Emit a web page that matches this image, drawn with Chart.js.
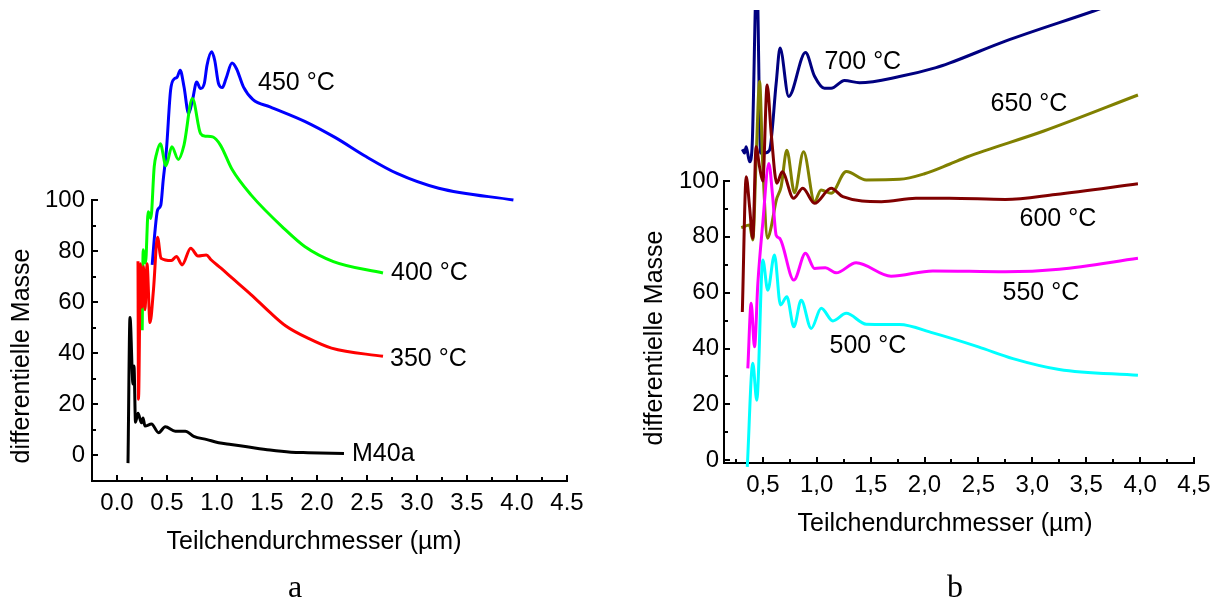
<!DOCTYPE html>
<html>
<head>
<meta charset="utf-8">
<script src="https://cdn.jsdelivr.net/npm/chart.js@4/dist/chart.umd.min.js"></script>
<style>
body { margin: 0; background: #fff; }
#wrap { position: relative; width: 1225px; height: 602px; }
canvas { position: absolute; left: 0; top: 0; }
</style>
</head>
<body>
<div id="wrap">
<canvas id="chartA" width="1225" height="602"></canvas>
<canvas id="chartB" width="1225" height="602"></canvas>
</div>
<script>
// ---- chart a: tick values ----
const xTickA = [0, 0.5, 1, 1.5, 2, 2.5, 3, 3.5, 4, 4.5];
const yTickA = [0, 20, 40, 60, 80, 100];

// M40a (black)
const m40aX = [0.11, 0.13, 0.16, 0.17, 0.185, 0.21, 0.245, 0.26, 0.28, 0.345, 0.416, 0.483, 0.583, 0.683, 0.767, 0.9, 1.017, 1.14, 1.3, 1.53, 1.74, 1.91, 2.27];
const m40aY = [-3, 54, 28, 35, 13, 16.5, 12.8, 14.7, 11.5, 12.3, 8.9, 11.2, 9.5, 9.5, 7.5, 6.2, 5, 4.3, 3.4, 2.1, 1.3, 1.1, 0.8];

// 350 °C (red)
const r350X = [0.21, 0.215, 0.235, 0.25, 0.265, 0.28, 0.3, 0.33, 0.365, 0.405, 0.44, 0.544, 0.594, 0.651, 0.737, 0.81, 0.893, 0.94, 1.04, 1.15, 1.34, 1.53, 1.685, 1.915, 2.145, 2.66];
const r350Y = [76, 22, 75, 58, 74, 57, 75, 52, 65, 85.4, 77.2, 76.3, 77.9, 74.6, 81.1, 78.1, 78.5, 76.6, 73.3, 69.5, 63, 56, 50.8, 45.8, 42, 38.8];

// 400 °C (green)
const g400X = [0.252, 0.262, 0.285, 0.312, 0.338, 0.372, 0.395, 0.433, 0.49, 0.548, 0.613, 0.67, 0.754, 0.835, 0.88, 0.957, 1.034, 1.15, 1.34, 1.685, 1.877, 2.164, 2.66];
const g400Y = [49, 80.5, 75.3, 95.4, 92.8, 113, 118, 122, 113.4, 120.8, 115.9, 121.5, 139.7, 126, 125, 124.7, 121.5, 112, 102, 88.3, 81.8, 75.9, 71.4];

// 450 °C (blue)
const b450X = [0.352, 0.378, 0.405, 0.438, 0.462, 0.494, 0.536, 0.575, 0.6, 0.632, 0.67, 0.716, 0.754, 0.797, 0.835, 0.873, 0.9, 0.946, 0.977, 1.015, 1.053, 1.09, 1.15, 1.195, 1.264, 1.36, 1.53, 1.877, 2.18, 2.49, 2.8, 3.217, 3.964];
const b450Y = [74.6, 87, 96, 98, 107.8, 119.5, 143, 147.5, 148, 150.8, 144.3, 133.9, 139, 146.2, 143.6, 145.6, 152.7, 158, 154.7, 145.6, 144, 147.5, 153.6, 151.4, 144.3, 139.3, 136.5, 130.8, 124.5, 117, 110.4, 104.6, 100];

// ---- chart b: tick values ----
const xTickB = [0.5, 1, 1.5, 2, 2.5, 3, 3.5, 4, 4.5];
const yTickB = [0, 20, 40, 60, 80, 100];

// 500 °C (cyan)
const c500X = [0.356, 0.407, 0.444, 0.5, 0.546, 0.608, 0.664, 0.723, 0.788, 0.856, 0.949, 1.042, 1.15, 1.274, 1.46, 1.768, 2.077, 2.5, 2.82, 3.25, 3.98];
const c500Y = [-2.4, 34.7, 21.5, 71.7, 60.9, 73.5, 55.6, 58.5, 47.8, 57.3, 47.2, 54.4, 49.9, 52.6, 48.7, 48.6, 45.6, 40.6, 36.4, 32.5, 30.4];

// 550 °C (magenta)
const p550X = [0.361, 0.392, 0.423, 0.454, 0.5, 0.556, 0.59, 0.624, 0.655, 0.788, 0.896, 0.98, 1.08, 1.18, 1.366, 1.69, 2.077, 2.75, 3.25, 3.98];
const p550Y = [32.9, 56.2, 40.6, 63.3, 85, 106.3, 95, 80.6, 79.5, 64.5, 74.1, 68.7, 68.9, 67.1, 70.7, 65.9, 67.8, 67.5, 68.4, 72.3];

// 600 °C (maroon)
const m600X = [0.31, 0.346, 0.377, 0.407, 0.438, 0.47, 0.5, 0.54, 0.578, 0.63, 0.68, 0.785, 0.871, 0.98, 1.134, 1.242, 1.6, 1.92, 2.23, 2.75, 3.214, 3.98];
const m600Y = [53.1, 101.5, 90.8, 79.5, 112.3, 105, 100, 134.4, 117, 99.2, 103.3, 93.8, 97.4, 92, 97.4, 94.4, 92.6, 93.8, 93.8, 93.4, 95.2, 99];

// 650 °C (olive)
const o650X = [0.3, 0.377, 0.407, 0.44, 0.47, 0.5, 0.546, 0.578, 0.624, 0.67, 0.723, 0.794, 0.878, 0.98, 1.04, 1.134, 1.274, 1.46, 1.768, 2.0, 2.23, 2.393, 3.107, 3.98];
const o650Y = [83.3, 84.2, 78.9, 110, 135.6, 105, 79.5, 83.6, 93, 98, 111, 95.8, 110.5, 92.6, 96.8, 95.6, 103.4, 100.4, 100.6, 102.6, 106, 108.6, 117.9, 130.8];

// 700 °C (navy)
const n700X = [0.31, 0.33, 0.346, 0.377, 0.4, 0.444, 0.48, 0.516, 0.562, 0.624, 0.66, 0.74, 0.896, 0.98, 1.072, 1.134, 1.258, 1.397, 1.768, 2.107, 2.23, 2.75, 3.57, 3.98];
const n700Y = [111.4, 110, 112.3, 106.9, 111.7, 175, 110, 110, 111, 135, 147.6, 130.3, 146, 137.5, 133.2, 133.2, 136, 135.2, 137.4, 140.6, 142.2, 150.1, 160.9, 166.5];

const FONT = '"Liberation Sans", Arial, sans-serif';
Chart.defaults.font.family = FONT;
Chart.defaults.color = '#000';

function pts(xs, ys) {
    return xs.map((x, i) => ({ x: x, y: ys[i] }));
}

function line(label, xs, ys, color, clip) {
    return {
        label: label,
        data: pts(xs, ys),
        borderColor: color,
        borderWidth: 3,
        pointRadius: 0,
        fill: false,
        cubicInterpolationMode: 'monotone',
        clip: clip
    };
}

// minor ticks halfway between the major ones (and one step outside if it fits)
function minors(major, min, max) {
    const step = major[1] - major[0];
    const out = [];
    for (let v = major[0] - step / 2; v <= max + 1e-9; v += step) {
        if (v >= min - 1e-9) out.push(v);
    }
    return out;
}

// inward tick marks, curve labels, axis titles, panel letter
const decoPlugin = {
    id: 'deco',
    afterDraw(chart, args, o) {
        const ctx = chart.ctx;
        const sx = chart.scales.x, sy = chart.scales.y;
        const area = chart.chartArea;
        ctx.save();
        ctx.strokeStyle = '#000';
        ctx.lineWidth = 2;
        const tick = (scale, values, len) => {
            values.forEach(v => {
                const p = Math.round(scale.getPixelForValue(v));
                ctx.beginPath();
                if (scale.axis === 'x') {
                    ctx.moveTo(p, area.bottom);
                    ctx.lineTo(p, area.bottom - len);
                } else {
                    ctx.moveTo(area.left, p);
                    ctx.lineTo(area.left + len, p);
                }
                ctx.stroke();
            });
        };
        tick(sx, o.xMajor, 6);
        tick(sx, minors(o.xMajor, sx.min, sx.max), 4);
        tick(sy, o.yMajor, 6);
        tick(sy, minors(o.yMajor, sy.min, sy.max), 4);

        ctx.fillStyle = '#000';
        ctx.font = '25px ' + FONT;
        ctx.textAlign = 'left';
        ctx.textBaseline = 'middle';
        o.names.forEach((n, i) => {
            ctx.fillText(n, sx.getPixelForValue(o.nameX[i]), sy.getPixelForValue(o.nameY[i]));
        });

        ctx.textAlign = 'center';
        ctx.fillText('Teilchendurchmesser (µm)', o.xTitle[0], o.xTitle[1]);
        ctx.save();
        ctx.translate(o.yTitle[0], o.yTitle[1]);
        ctx.rotate(-Math.PI / 2);
        ctx.fillText('differentielle Masse', 0, 0);
        ctx.restore();

        ctx.font = '32px "Liberation Serif", serif';
        ctx.textBaseline = 'alphabetic';
        ctx.fillText(o.panel, o.panelPos[0], o.panelPos[1]);
        ctx.restore();
    }
};

function axes(xMin, xMax, xTicks, xFmt, yMin, yMax, yTicks, yWidth, xHeight, yPad) {
    return {
        x: {
            type: 'linear', min: xMin, max: xMax,
            afterBuildTicks: s => { s.ticks = xTicks.map(v => ({ value: v })); },
            afterFit: s => { s.height = xHeight; },
            grid: { display: false, drawTicks: false },
            border: { display: true, color: '#000', width: 2 },
            ticks: { padding: 8, font: { size: 24 }, maxRotation: 0, autoSkip: false, callback: xFmt }
        },
        y: {
            min: yMin, max: yMax,
            afterBuildTicks: s => { s.ticks = yTicks.map(v => ({ value: v })); },
            afterFit: s => { s.width = yWidth; },
            grid: { display: false, drawTicks: false },
            border: { display: true, color: '#000', width: 2 },
            ticks: { padding: yPad, font: { size: 24 }, autoSkip: false, callback: v => String(v) }
        }
    };
}

// chart a
new Chart(document.getElementById('chartA'), {
    type: 'line',
    data: {
        datasets: [
            line('M40a', m40aX, m40aY, '#000000', false),
            line('350 °C', r350X, r350Y, '#ff0000', false),
            line('400 °C', g400X, g400Y, '#00ff00', false),
            line('450 °C', b450X, b450Y, '#0000ff', false)
        ]
    },
    options: {
        responsive: false,
        animation: false,
        layout: { padding: { left: 0, top: 200, right: 658, bottom: 0 } },
        scales: axes(-0.25, 4.5, xTickA, v => v.toFixed(1), -10, 100, yTickA, 92, 121, 7),
        plugins: {
            legend: { display: false },
            tooltip: { enabled: false },
            deco: {
                xMajor: xTickA, yMajor: yTickA,
                names: ['450 °C', '400 °C', '350 °C', 'M40a'],
                nameX: [1.41, 2.74, 2.73, 2.35],
                nameY: [145.7, 71.5, 37.9, 0.4],
                xTitle: [314, 542], yTitle: [22, 356],
                panel: 'a', panelPos: [295, 597]
            }
        }
    },
    plugins: [decoPlugin]
});

// chart b
const clipB = { left: 30, top: 171, right: 30, bottom: 10 };
new Chart(document.getElementById('chartB'), {
    type: 'line',
    data: {
        datasets: [
            line('500 °C', c500X, c500Y, '#00ffff', clipB),
            line('550 °C', p550X, p550Y, '#ff00ff', clipB),
            line('600 °C', m600X, m600Y, '#800000', clipB),
            line('650 °C', o650X, o650Y, '#808000', clipB),
            line('700 °C', n700X, n700Y, '#000080', clipB)
        ]
    },
    options: {
        responsive: false,
        animation: false,
        layout: { padding: { left: 0, top: 181, right: 31, bottom: 0 } },
        scales: axes(0.14, 4.5, xTickB, v => v.toFixed(1).replace('.', ','), -1, 100, yTickB, 724, 139, 5),
        plugins: {
            legend: { display: false },
            tooltip: { enabled: false },
            deco: {
                xMajor: xTickB, yMajor: yTickB,
                names: ['700 °C', '650 °C', '600 °C', '550 °C', '500 °C'],
                nameX: [1.072, 2.612, 2.881, 2.724, 1.119],
                nameY: [142.7, 127.6, 86.4, 59.9, 40.9],
                xTitle: [945, 524], yTitle: [655, 338],
                panel: 'b', panelPos: [955, 597]
            }
        }
    },
    plugins: [decoPlugin]
});
</script>
</body>
</html>
